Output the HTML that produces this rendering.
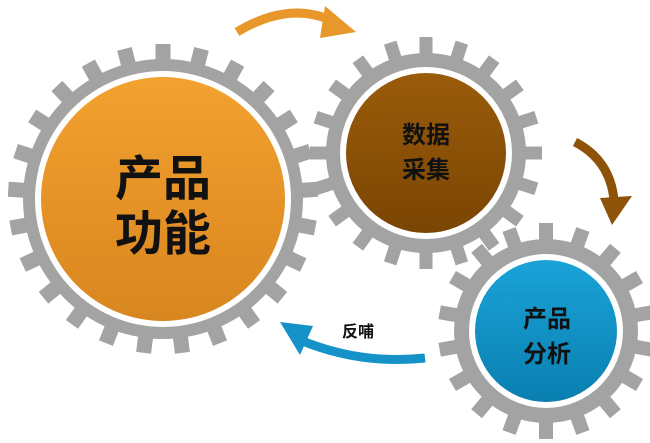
<!DOCTYPE html>
<html><head><meta charset="utf-8"><style>
html,body{margin:0;padding:0;background:#fff;width:650px;height:443px;overflow:hidden}
text{font-family:"Liberation Sans","Noto Sans CJK SC",sans-serif;font-weight:bold;fill:#111;text-anchor:middle}
</style></head><body>
<svg id="s" width="650" height="443" viewBox="0 0 650 443" xmlns="http://www.w3.org/2000/svg">
<defs>
<linearGradient id="go" x1="0" y1="0" x2="0" y2="1"><stop offset="0" stop-color="#f3a12f"/><stop offset="1" stop-color="#d8861f"/></linearGradient>
<linearGradient id="gb" x1="0" y1="0" x2="0" y2="1"><stop offset="0" stop-color="#9a5c0a"/><stop offset="1" stop-color="#7a4503"/></linearGradient>
<linearGradient id="gc" x1="0" y1="0" x2="0" y2="1"><stop offset="0" stop-color="#1aa3d8"/><stop offset="1" stop-color="#0a7fb0"/></linearGradient>
</defs>
<g id="gears"></g>
<path d="M237,32 Q290,0 335,22" stroke="#e8972a" stroke-width="9" fill="none"/>
<polygon points="325,6 356,32 320,38" fill="#e8972a"/>
<path d="M575,142 Q610,160 614,200" stroke="#8e5308" stroke-width="9" fill="none"/>
<polygon points="600,198 632,196 612,225" fill="#8e5308"/>
<path d="M425,358 Q360,365 300,340" stroke="#1593c8" stroke-width="9" fill="none"/>
<polygon points="280,322 313,326 300,355" fill="#1593c8"/>
<text x="358" y="337" font-size="16">反哺</text>
<text x="163" y="195" font-size="48">产品</text>
<text x="163" y="250" font-size="48">功能</text>
<text x="426" y="143" font-size="24">数据</text>
<text x="426" y="178" font-size="24">采集</text>
<text x="547" y="327" font-size="24">产品</text>
<text x="547" y="362" font-size="24">分析</text>
</svg>
<script>
var g=document.getElementById('gears');
function gear(cx,cy,rc,rw,rg,rt,n,tw,fill){
 var s='';
 for(var i=0;i<n;i++){var a=360*i/n;
  s+='<rect x="'+(cx-tw/2)+'" y="'+(cy-rt)+'" width="'+tw+'" height="'+(rt-rg+4)+'" fill="#a3a3a3" transform="rotate('+a+' '+cx+' '+cy+')"/>';}
 s+='<circle cx="'+cx+'" cy="'+cy+'" r="'+rg+'" fill="#a3a3a3"/>';
 s+='<circle cx="'+cx+'" cy="'+cy+'" r="'+rw+'" fill="#fff"/>';
 s+='<circle cx="'+cx+'" cy="'+cy+'" r="'+rc+'" fill="'+fill+'"/>';
 return s;}
g.innerHTML=gear(163,199,122,128,140,155,25,15,'url(#go)')+gear(426,153,80,86,100,116,20,13,'url(#gb)')+gear(546,331,71,77,92,108,18,14,'url(#gc)');
</script>
</body></html>
